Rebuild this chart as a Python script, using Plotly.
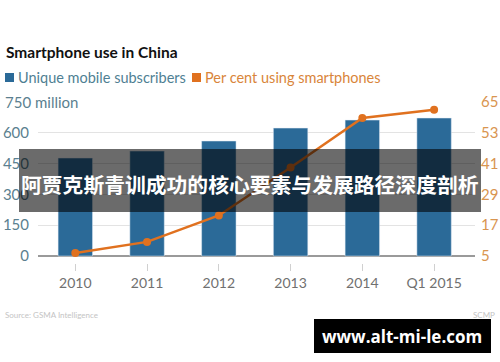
import plotly.graph_objects as go

categories = ["2010", "2011", "2012", "2013", "2014", "Q1 2015"]
subscribers = [477, 511, 560, 623, 662, 672]
smartphone_pct = [6.2, 10.5, 20.8, 39.5, 58.8, 62.0]
left_ticks = [0, 150, 300, 450, 600, 750]
left_ticktext = ["0", "150", "300", "450", "600", ""]
right_ticks = [5, 17, 29, 41, 53, 65]

BLUE = "#2b6a98"
ORANGE = "#e0711f"
FONT = "Lato"

# plot area in pixels
X0, X1, Y0, Y1 = 38, 475, 102, 263
W, H = X1 - X0, Y1 - Y0


def px(x):
    return (x - X0) / W


def py(y):
    return (Y1 - y) / H


fig = go.Figure()
fig.add_trace(go.Bar(x=categories, y=subscribers, marker_color=BLUE, width=0.48,
                     name="Unique mobile subscribers", showlegend=False))
fig.add_trace(go.Scatter(x=categories, y=smartphone_pct, yaxis="y2", mode="lines+markers",
                         line=dict(color=ORANGE, width=2.5), marker=dict(size=8, color=ORANGE),
                         name="Per cent using smartphones", showlegend=False))

fig.update_layout(
    width=500, height=362,
    margin=dict(l=X0, r=500 - X1, t=Y0, b=362 - Y1, autoexpand=False),
    paper_bgcolor="white", plot_bgcolor="white",
    xaxis=dict(range=[-0.52, 5.57], showgrid=False, showline=False, zeroline=False, automargin=False,
               ticks="outside", ticklen=7, tickcolor="#d0d0d0", tickwidth=1,
               tickfont=dict(family=FONT, size=14, color="#707070")),
    yaxis=dict(range=[-34, 750], tickvals=left_ticks, ticktext=left_ticktext, automargin=False,
               showgrid=True, gridcolor="#e3e3e3", gridwidth=1,
               zeroline=True, zerolinecolor="#9a9a9a", zerolinewidth=1.5,
               showline=False, ticks="", ticklabelstandoff=8,
               tickfont=dict(family=FONT, size=15, color="#5b7f8f")),
    yaxis2=dict(range=[5 - 34 * 60 / 750, 65], tickvals=right_ticks, overlaying="y", side="right",
                automargin=False,
                showgrid=False, zeroline=False, showline=False, ticks="", ticklabelstandoff=5,
                tickfont=dict(family=FONT, size=15, color="#d99550")),
    showlegend=False,
)

ann = []


def add(text, x, y, size, color, anchor="left", family=FONT, bg=None):
    d = dict(text=text, x=px(x), y=py(y), xref="paper", yref="paper",
             xanchor=anchor, yanchor="middle", showarrow=False,
             font=dict(family=family, size=size, color=color))
    if bg:
        d["bgcolor"] = bg
    ann.append(d)


add("<b>Smartphone use in China</b>", 4, 52, 15.5, "#111111")
add("Unique mobile subscribers", 16, 77, 14.5, "#4f7f93")
add("Per cent using smartphones", 203, 77, 14.5, "#d9853a")
add("750 million", 3, 102, 15, "#5b7f8f", bg="white")
add("Source: GSMA Intelligence", 3, 315, 8, "#c4c4c4")
add("SCMP", 497, 315, 8, "#c4c4c4", anchor="right")
add("<b>阿贾克斯青训成功的核心要素与发展路径深度剖析</b>", 250, 184, 20.8, "white",
    anchor="center", family="Noto Sans CJK SC")
add("<b>www.alt-mi-le.com</b>", 402, 336, 17, "white", anchor="center", family="Open Sans")
fig.update_layout(annotations=ann)

# legend squares
fig.add_shape(type="rect", xref="paper", yref="paper", x0=px(5), x1=px(14), y0=py(82), y1=py(73),
              fillcolor=BLUE, line=dict(width=0))
fig.add_shape(type="rect", xref="paper", yref="paper", x0=px(192), x1=px(201), y0=py(82), y1=py(73),
              fillcolor=ORANGE, line=dict(width=0))
# overlays
fig.add_shape(type="rect", xref="paper", yref="paper", x0=px(19), x1=px(481), y0=py(212), y1=py(149),
              fillcolor="rgba(0,0,0,0.58)", line=dict(width=0), layer="above")
fig.add_shape(type="rect", xref="paper", yref="paper", x0=px(314), x1=px(491), y0=py(353), y1=py(319),
              fillcolor="black", line=dict(width=0), layer="above")

fig.write_html("out.html", config={"displayModeBar": False},
               post_script="document.body.style.margin='0';document.body.style.padding='0';")
